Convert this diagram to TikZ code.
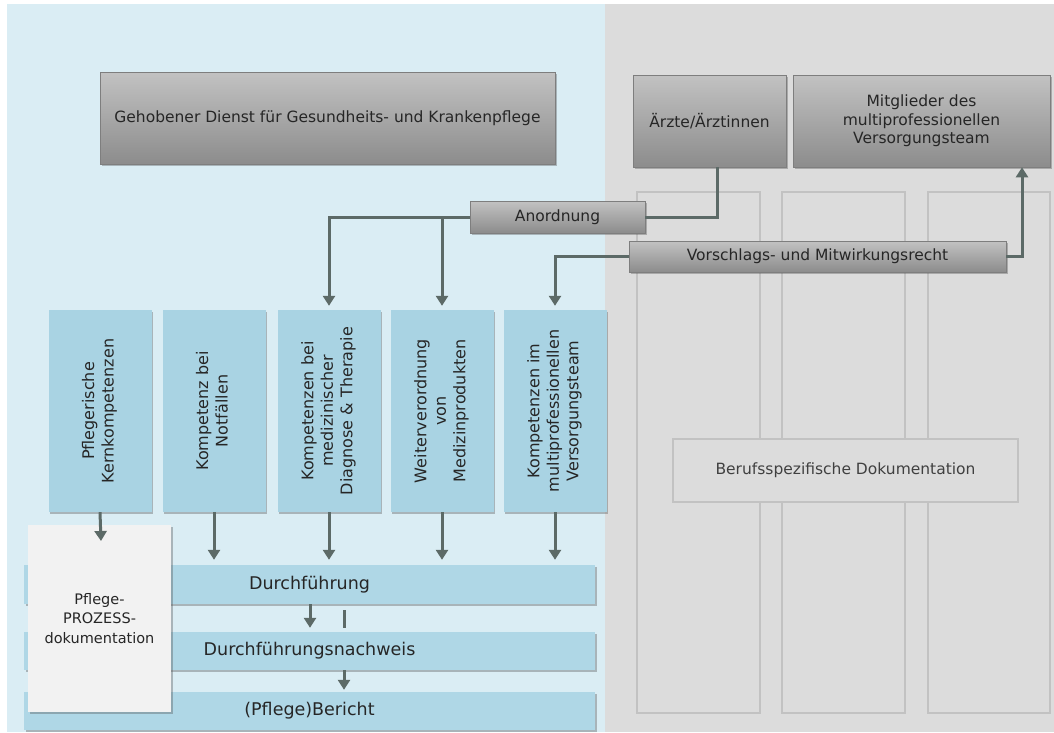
\documentclass[tikz,border=0pt]{standalone}
\usepackage{fontspec}
\setmainfont{DejaVu Sans}
\usetikzlibrary{arrows.meta,shadows}
\definecolor{bluebg}{HTML}{DAEDF4}
\definecolor{graybg}{HTML}{DCDCDC}
\definecolor{colblue}{HTML}{A9D3E3}
\definecolor{rowblue}{HTML}{AFD7E6}
\definecolor{arrowc}{HTML}{5C6A67}
\definecolor{txt}{HTML}{262626}
\definecolor{gline}{HTML}{C2C2C2}
\definecolor{boxtop}{HTML}{C2C2C2}
\definecolor{boxbot}{HTML}{8C8C8C}
\definecolor{boxline}{HTML}{7E7E7E}
\definecolor{docfill}{HTML}{F2F2F2}
\tikzset{
  shad/.style={drop shadow={shadow xshift=1.5pt,shadow yshift=-2pt,opacity=0.35,fill=black!70}},
  darkbox/.style={draw=boxline,line width=0.6pt,top color=boxtop,bottom color=boxbot,shad,
    text=txt,inner sep=0pt,align=center,font=\fontsize{15.5}{18.5}\selectfont},
  colbox/.style={fill=colblue,shad,minimum width=103pt,minimum height=202pt,inner sep=0pt,
    text=txt,font=\fontsize{16}{19.5}\selectfont},
  rowbox/.style={fill=rowblue,shad,minimum width=571pt,inner sep=0pt,text=txt,
    font=\fontsize{17.5}{20}\selectfont},
  docbox/.style={fill=docfill,shad,minimum width=143pt,minimum height=187pt,inner sep=0pt,
    text=txt,align=center,font=\fontsize{14.5}{19.5}\selectfont},
  gridcol/.style={draw=gline,line width=1.2pt},
  berufbox/.style={draw=gline,line width=1.2pt,fill=graybg,minimum width=345pt,minimum height=63pt,
    inner sep=0pt,text=black!75,font=\fontsize{15.5}{18.5}\selectfont},
  arr/.style={draw=arrowc,line width=3pt,-{Triangle[width=12pt,length=10pt]}},
  conn/.style={draw=arrowc,line width=3pt},
}
\newcommand{\vtext}[1]{\rotatebox{90}{\begin{tabular}{@{}c@{}}#1\end{tabular}}}
\begin{document}
\begin{tikzpicture}[x=1pt,y=-1pt]
\useasboundingbox (0,0) rectangle (1054,732);
\fill[white] (0,0) rectangle (1054,732);
\fill[bluebg] (7,4) rectangle (605,732);
\fill[graybg] (605,4) rectangle (1054,732);

% gray columns
\draw[gridcol] (637,192) rectangle (760,713);
\draw[gridcol] (782,192) rectangle (905,713);
\draw[gridcol] (928,192) rectangle (1050,713);
\node[berufbox] (beruf) at (845.5,470.5) {Berufsspezifische Dokumentation};

% top boxes
\node[darkbox,minimum width=455pt,minimum height=92pt] (gehob) at (327.5,118)
  {Gehobener Dienst für Gesundheits- und Krankenpflege};
\node[darkbox,minimum width=153pt,minimum height=92pt] (aerzte) at (709.5,121) {Ärzte/Ärztinnen};
\node[darkbox,minimum width=257pt,minimum height=92pt] (mitgl) at (921.5,121)
  {Mitglieder des\\multiprofessionellen\\Versorgungsteam};

% blue columns
\node[colbox] (c1) at (100,411) {\vtext{Pflegerische\\Kernkompetenzen}};
\node[colbox] (c2) at (214,411) {\vtext{Kompetenz bei\\Notfällen}};
\node[colbox] (c3) at (329,411) {\vtext{Kompetenzen bei\\medizinischer\\Diagnose \& Therapie}};
\node[colbox] (c4) at (442,411) {\vtext{Weiterverordnung\\von\\Medizinprodukten}};
\node[colbox] (c5) at (555,411) {\vtext{Kompetenzen im\\multiprofessionellen\\Versorgungsteam}};

% label boxes
\node[darkbox,minimum width=175pt,minimum height=32pt] (anord) at (557.5,217) {Anordnung};
\node[darkbox,minimum width=377pt,minimum height=31pt] (vor) at (817.5,256.5)
  {Vorschlags- und Mitwirkungsrecht};

\coordinate (ax) at (717,0);
\coordinate (mx) at (1022,0);
\draw[conn] (aerzte.south -| ax) |- (anord.east);
\draw[arr,shorten >=4pt] (anord.west) -| (c3.north);
\draw[arr,shorten >=4pt] (anord.west -| c4.north) -- (c4.north);
\draw[arr,shorten >=4pt] (vor.west) -| (c5.north);
\draw[arr] (vor.east) -| (mitgl.south -| mx);

% rows
\node[rowbox,minimum height=39pt] (r1) at (309.5,584.5) {Durchführung};
\node[rowbox,minimum height=38pt] (r2) at (309.5,651) {Durchführungsnachweis};
\node[rowbox,minimum height=38pt] (r3) at (309.5,711) {(Pflege)Bericht};

\node[docbox] (doc) at (99.5,618.5) {Pflege-\\PROZESS-\\dokumentation};

% arrows from columns
\coordinate (c1end) at (101,541);
\draw[arr] (c1.south) -- (c1end);
\draw[arr,shorten >=5pt] (c2.south) -- (c2.south |- r1.north);
\draw[arr,shorten >=5pt] (c3.south) -- (c3.south |- r1.north);
\draw[arr,shorten >=5pt] (c4.south) -- (c4.south |- r1.north);
\draw[arr,shorten >=5pt] (c5.south) -- (c5.south |- r1.north);

% arrows between rows
\coordinate (xa) at (310,0);
\coordinate (xb) at (344,0);
\draw[arr,shorten >=4pt] (r1.south -| xa) -- (r2.north -| xa);
\draw[conn,shorten <=6pt,shorten >=4pt] (r1.south -| xb) -- (r2.north -| xb);
\draw[arr,shorten >=2pt] (r2.south -| xb) -- (r3.north -| xb);
\end{tikzpicture}
\end{document}
